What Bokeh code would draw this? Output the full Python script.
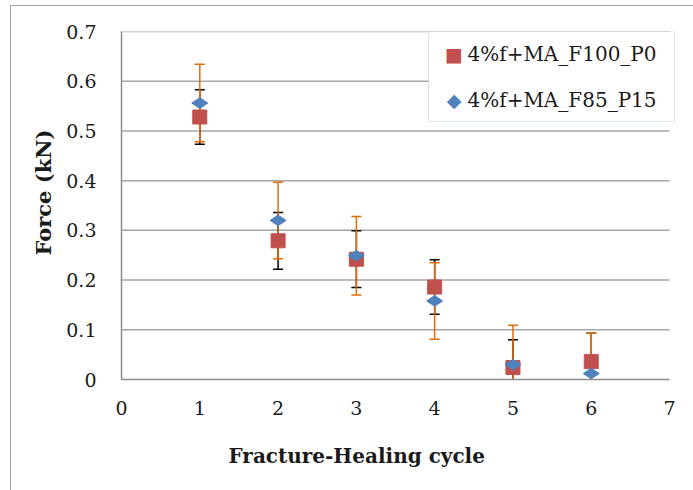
import math
from bokeh.plotting import figure
from bokeh.models import (Whisker, ColumnDataSource, Range1d, FixedTicker,
                          BoxAnnotation, Label, Title)
from bokeh.embed import file_html
from bokeh.resources import INLINE

# Fracture-healing cycles and measured peak force (kN) with error bars
cycles = [1, 2, 3, 4, 5, 6]
force_f100_p0 = [0.528, 0.279, 0.242, 0.186, 0.024, 0.036]
err_f100_p0 = [0.055, 0.057, 0.057, 0.055, 0.056, 0.057]
force_f85_p15 = [0.556, 0.320, 0.249, 0.158, 0.030, 0.012]
err_f85_p15 = [0.078, 0.077, 0.079, 0.077, 0.079, 0.081]

label_a = "4%f+MA_F100_P0"
label_b = "4%f+MA_F85_P15"
x_ticks = [0, 1, 2, 3, 4, 5, 6, 7]
y_ticks = [0, 0.1, 0.2, 0.3, 0.4, 0.5, 0.6, 0.7]

SERIF = "DejaVu Serif"
GRID = "#a6a6a6"
RED = "#c0504d"
BLUE = "#4f81bd"
ORANGE = "#e36c09"
INK = "#1a1a1a"

src_a = ColumnDataSource(dict(
    x=cycles, y=force_f100_p0,
    lo=[v - e for v, e in zip(force_f100_p0, err_f100_p0)],
    hi=[v + e for v, e in zip(force_f100_p0, err_f100_p0)],
))
src_b = ColumnDataSource(dict(
    x=cycles, y=force_f85_p15,
    lo=[v - e for v, e in zip(force_f85_p15, err_f85_p15)],
    hi=[v + e for v, e in zip(force_f85_p15, err_f85_p15)],
))

# the frame runs a little past x=7 so the legend box fits inside it
x_lo, x_hi = x_ticks[0], x_ticks[-1]
p = figure(
    width=683, height=485, margin=(5, 0, 0, 10),
    output_backend="svg", toolbar_location=None,
    x_range=Range1d(x_lo, x_hi + 0.306), y_range=Range1d(y_ticks[0], y_ticks[-1]),
    min_border_left=110, min_border_top=25, min_border_right=1, min_border_bottom=112,
    styles={"border-left": "1px solid #a6a6a6", "border-top": "1px solid #a6a6a6"},
)
p.outline_line_color = None
p.background_fill_color = "white"
p.border_fill_color = "white"

# axes
p.xaxis.ticker = FixedTicker(ticks=x_ticks)
p.yaxis.ticker = FixedTicker(ticks=y_ticks)
p.xaxis.bounds = (x_lo, x_hi)
p.yaxis.formatter.use_scientific = False
for ax in (p.xaxis[0], p.yaxis[0]):
    ax.axis_line_color = "#8c8c8c"
    ax.axis_line_width = 1.5
    ax.major_tick_line_color = None
    ax.minor_tick_line_color = None
    ax.major_label_text_font = SERIF
    ax.major_label_text_font_size = "19px"
    ax.major_label_text_color = INK
p.xaxis.major_label_standoff = 15
p.yaxis.major_label_standoff = 19

# axis titles
p.add_layout(Title(text="Force (kN)", align="left", offset=124,
                   standoff=16, text_font=SERIF, text_font_style="bold",
                   text_font_size="21px", text_color=INK), "left")
p.add_layout(Title(text="Fracture-Healing cycle", align="left", offset=107,
                   standoff=48, text_font=SERIF, text_font_style="bold",
                   text_font_size="20px", text_color=INK), "below")

# horizontal gridlines, drawn only across x = 0..7
p.xgrid.grid_line_color = None
p.ygrid.grid_line_color = None
gy = y_ticks[1:]
p.segment(x0=[x_lo] * len(gy), x1=[x_hi] * len(gy), y0=gy, y1=gy,
          line_color=GRID, line_width=1.5, level="image")


def style_whisker(w, color):
    for head in (w.upper_head, w.lower_head):
        head.size = 10
        head.line_color = color
        head.line_width = 1.5


# error bars
wa = Whisker(source=src_a, base="x", lower="lo", upper="hi",
             line_color="black", line_width=1.5)
style_whisker(wa, "black")
p.add_layout(wa)

wb = Whisker(source=src_b, base="x", lower="lo", upper="hi",
             line_color=ORANGE, line_width=1.5)
style_whisker(wb, ORANGE)
p.add_layout(wb)

p.scatter("x", "y", source=src_a, marker="square", size=14,
          fill_color=RED, line_color=RED)
p.scatter("x", "y", source=src_b, marker="diamond", size=16, angle=math.pi / 2,
          fill_color=BLUE, line_color=BLUE)

# legend box (screen offsets from the frame's bottom-left corner)
p.add_layout(BoxAnnotation(
    left=307, right=553, bottom=258, top=348,
    left_units="screen", right_units="screen", bottom_units="screen", top_units="screen",
    fill_color="white", fill_alpha=1.0, line_color="#7f9fcf", line_width=1,
))
for row_y, glyph, color, text in ((326, "\u25a0", RED, label_a),
                                  (280, "\u25c6", BLUE, label_b)):
    p.add_layout(Label(x=332.5, y=row_y, x_units="screen", y_units="screen",
                       text=glyph, text_color=color, text_font="DejaVu Sans",
                       text_font_size="19px", text_align="center",
                       text_baseline="middle"))
    p.add_layout(Label(x=346, y=row_y, x_units="screen", y_units="screen",
                       text=text, text_color=INK, text_font=SERIF,
                       text_font_size="20px", text_align="left",
                       text_baseline="middle"))

open("out.html", "w").write(file_html(p, INLINE))
